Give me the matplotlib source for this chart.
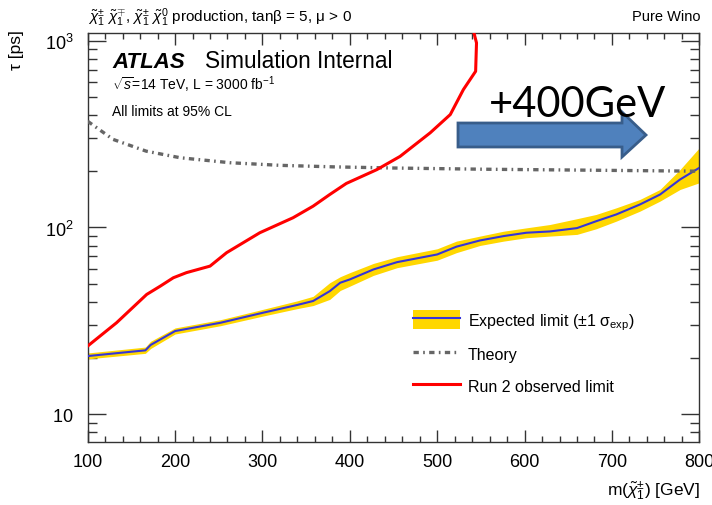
import numpy as np
import matplotlib
matplotlib.use("Agg")
import matplotlib.pyplot as plt
from matplotlib.patches import Patch, Polygon
from matplotlib.lines import Line2D
from matplotlib.ticker import MultipleLocator, LogLocator, FixedFormatter, FixedLocator, NullFormatter

plt.rcParams["font.family"] = ["Liberation Sans", "DejaVu Sans"]
plt.rcParams["mathtext.fontset"] = "custom"
plt.rcParams["mathtext.rm"] = "Liberation Sans"
plt.rcParams["mathtext.it"] = "Liberation Sans:italic"
plt.rcParams["mathtext.bf"] = "Liberation Sans:bold"

# expected limit with +-1 sigma band
m_exp = [100, 166, 172, 200, 252, 301, 340, 358, 377, 389, 400, 427, 454, 500, 522,
         549, 576, 602, 629, 660, 682, 705, 732, 755, 778, 800]
tau_exp = [20.5, 22.0, 23.5, 27.9, 30.9, 35.0, 38.5, 40.4, 45.6, 50.6, 52.7, 59.6, 65.2,
           71.7, 78.9, 85.2, 89.9, 93.7, 95.2, 99.2, 108.0, 117.4, 132.7, 150.0, 180.6, 208.5]
tau_up = [21.3, 22.9, 24.6, 29.0, 32.1, 36.5, 40.5, 42.8, 50.6, 54.5, 57.3, 64.2, 69.7,
          76.9, 84.5, 89.9, 95.5, 99.5, 103.7, 111.4, 117.4, 127.4, 141.2, 159.7, 204.2, 266.8]
tau_lo = [19.8, 21.2, 22.5, 26.9, 29.8, 33.6, 36.8, 38.2, 41.2, 46.0, 48.5, 55.4, 60.9,
          66.8, 73.3, 80.1, 84.5, 88.1, 89.9, 91.8, 98.4, 108.1, 122.2, 138.3, 159.7, 173.4]

# theory lifetime for a pure wino
m_th = [100, 129, 167, 206, 263, 320, 381, 450, 550, 650, 800]
tau_th = [370, 296, 256, 236, 222, 215, 211, 208, 205, 203, 200]

# Run 2 observed limit
m_obs = [100, 133, 167.5, 183, 198, 213, 240, 259, 297, 335, 358, 377, 396, 431,
         457.5, 492, 515, 530, 544, 545, 541]
tau_obs = [23.2, 30.9, 43.8, 48.5, 53.8, 57.3, 62.1, 73.3, 93.7, 112.7, 130, 150, 172, 204,
           240, 321, 402, 547, 685, 972, 1150]

W, H = 712, 506
fig = plt.figure(figsize=(W / 100, H / 100), dpi=100)


def fx(px):
    return px / W


def fy(py):
    return 1 - py / H


ax = fig.add_axes([fx(87.7), fy(443), fx(699.3) - fx(87.7), fy(34) - fy(443)])
ax.set_yscale("log")
ax.set_xlim(100, 800)
ax.set_ylim(7.11, 1098)

ax.fill_between(m_exp, tau_lo, tau_up, color="#ffd700", lw=0, zorder=2)
ax.plot(m_exp, tau_exp, color="#3535d8", lw=1.5, zorder=3)
ax.plot(m_th, tau_th, color="#666666", lw=2.4, dashes=(1.6, 1.3, 0.5, 1.3), zorder=3)
ax.plot(m_obs, tau_obs, color="#ff0000", lw=2.2, zorder=4)

# axis frame and ticks
for s in ax.spines.values():
    s.set_color("#333333")
    s.set_linewidth(1.0)
ax.xaxis.set_major_locator(MultipleLocator(100))
ax.xaxis.set_minor_locator(MultipleLocator(20))
ax.yaxis.set_major_locator(FixedLocator([10, 100, 1000]))
ax.yaxis.set_major_formatter(FixedFormatter([r"$10$", r"$10^{2}$", r"$10^{3}$"]))
ax.yaxis.set_minor_locator(LogLocator(base=10, subs=np.arange(2, 10)))
ax.yaxis.set_minor_formatter(NullFormatter())
ax.tick_params(which="both", direction="in", top=True, right=True, color="#333333",
               labelsize=13, width=1.0)
ax.tick_params(axis="x", which="major", length=8.6, pad=8)
ax.tick_params(axis="x", which="minor", length=4.3)
ax.tick_params(axis="y", which="major", length=13, pad=10)
ax.tick_params(axis="y", which="minor", length=6.5)

# legend
handles = [(Patch(facecolor="#ffd700", edgecolor="none"), Line2D([], [], color="#3535d8", lw=1.5)),
           Line2D([], [], color="#666666", lw=2.4, dashes=(1.6, 1.3, 0.5, 1.3)),
           Line2D([], [], color="#ff0000", lw=2.2)]
labels = ["Expected limit (±1 σ$_{\\mathrm{exp}}$)", "Theory", "Run 2 observed limit"]
fig.legend(handles, labels, loc="upper left", bbox_to_anchor=(fx(413), fy(311)),
           frameon=False, fontsize=11.5, handlelength=2.95, handleheight=1.5,
           handletextpad=0.5, labelspacing=0.78, borderpad=0, borderaxespad=0)

# labels around the frame
fig.text(fx(88), fy(22), r"$\tilde{\chi}^{\pm}_{1}$ $\tilde{\chi}^{\mp}_{1}$, "
         r"$\tilde{\chi}^{\pm}_{1}$ $\tilde{\chi}^{0}_{1}$" + " production, tanβ = 5, μ > 0",
         fontsize=11, va="baseline")
fig.text(fx(700), fy(21), "Pure Wino", fontsize=10.5, ha="right", va="baseline")
fig.text(fx(16), fy(30), "τ [ps]", fontsize=12.5, rotation=90, ha="center", va="top")
fig.text(fx(700), fy(496), r"m($\tilde{\chi}^{\pm}_{1}$) [GeV]", fontsize=12.5,
         ha="right", va="baseline")

fig.text(fx(112), fy(68), "ATLAS", fontsize=16, fontweight="bold", fontstyle="italic",
         va="baseline")
fig.text(fx(205), fy(68), "Simulation Internal", fontsize=16.3, va="baseline")
fig.text(fx(112), fy(90), r"$\sqrt{s}$=14 TeV, L = 3000 fb$^{-1}$", fontsize=10, va="baseline")
fig.text(fx(112), fy(116), "All limits at 95% CL", fontsize=10, va="baseline")

# mass reach arrow
arrow_px = [(458, 124), (622, 124), (622, 113), (646, 136), (622, 158), (622, 148), (458, 148)]
fig.patches.append(Polygon([(fx(x), fy(y)) for x, y in arrow_px], closed=True,
                           transform=fig.transFigure, facecolor="#4f81bd",
                           edgecolor="#385d8a", lw=2, zorder=5))
fig.text(fx(489), fy(117), "+400GeV", fontsize=30, family=["Lato", "DejaVu Sans"],
         va="baseline", zorder=6)

fig.savefig("out.png", dpi=100)
